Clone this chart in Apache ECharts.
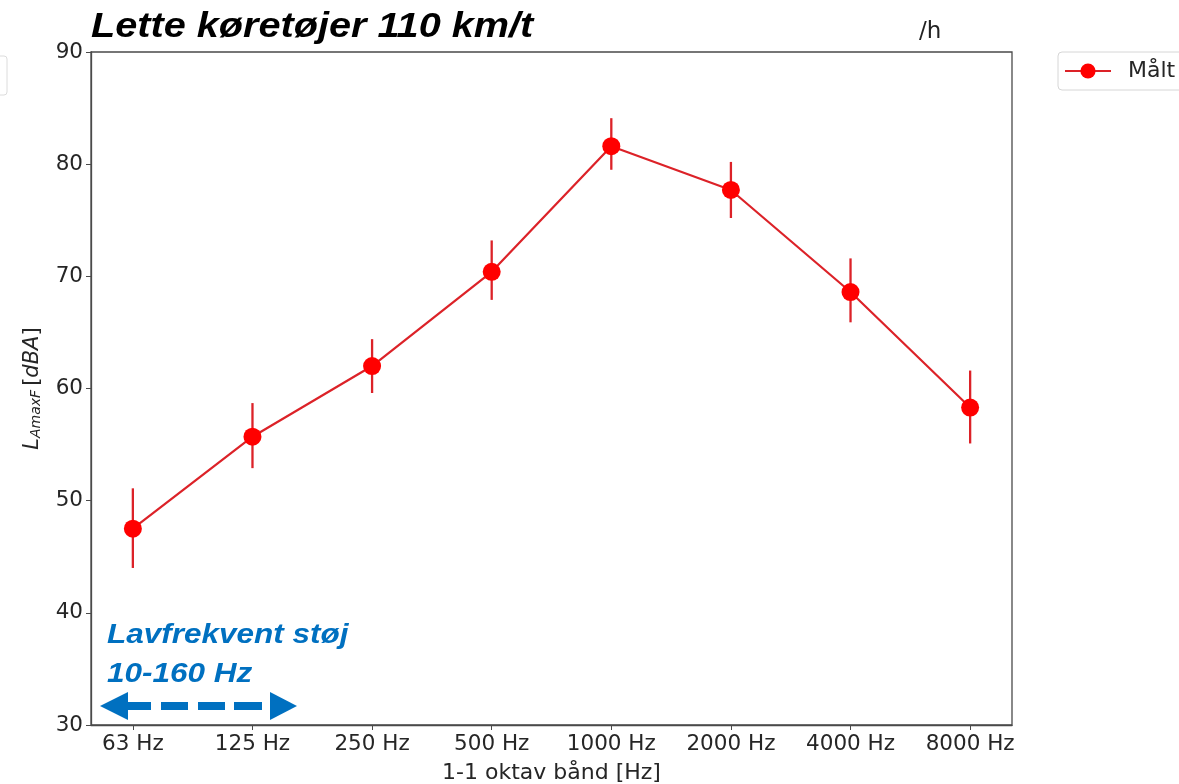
<!DOCTYPE html>
<html>
<head>
<meta charset="utf-8">
<script src="https://cdn.jsdelivr.net/npm/echarts@6/dist/echarts.min.js"></script>
<style>html,body{margin:0;padding:0;background:#fff}#c{width:1179px;height:784px}</style>
</head>
<body>
<div id="c"></div>
<script>
const categories = ['63 Hz','125 Hz','250 Hz','500 Hz','1000 Hz','2000 Hz','4000 Hz','8000 Hz'];
const measured = [47.5, 55.7, 62.0, 70.4, 81.6, 77.7, 68.6, 58.3];
const errLow   = [44.0, 52.9, 59.6, 67.9, 79.5, 75.2, 65.9, 55.1];
const errHigh  = [51.1, 58.7, 64.4, 73.2, 84.1, 80.2, 71.6, 61.6];
const yTicks = [30, 40, 50, 60, 70, 80, 90];

const idx = categories.map((_, i) => i);
const lineData = measured.map((v, i) => [i, v]);
const errData = idx.map(i => [i, errLow[i], errHigh[i]]);

const chart = echarts.init(document.getElementById('c'), null, {renderer: 'canvas'});
const tickFont = {fontFamily: 'DejaVu Sans', fontSize: 21.5, color: '#262626'};
const axisCol = '#4a4a4a';
const redLine = '#dc2228';
const blue = '#0070c0';
const boldItalic = (size, fill) => ({fontFamily: 'Liberation Sans', fontWeight: 'bold', fontStyle: 'italic', fontSize: size, fill: fill, verticalAlign: 'middle', align: 'left'});

chart.setOption({
  animation: false,
  backgroundColor: '#fff',
  grid: {left: 91, right: 167, top: 52, bottom: 59, outerBoundsMode: 'none', containLabel: false,
         show: true, borderColor: axisCol, borderWidth: 1.3, backgroundColor: 'transparent'},
  legend: {
    data: ['Målt'], left: 1058, top: 52, orient: 'vertical',
    itemWidth: 46, itemHeight: 19, itemGap: 8,
    padding: [8, 10, 8, 6], borderColor: '#d6d6d6', borderWidth: 1, borderRadius: 4,
    textStyle: {fontFamily: 'DejaVu Sans', fontSize: 22, color: '#262626', padding: [0, 0, 0, 12]}
  },
  xAxis: {
    type: 'value', min: -0.35, max: 7.35,
    name: '1-1 oktav bånd [Hz]', nameLocation: 'middle', nameGap: 37,
    nameTextStyle: {fontFamily: 'DejaVu Sans', fontSize: 22, color: '#262626'},
    axisLine: {show: true, onZero: false, lineStyle: {color: axisCol, width: 1.3}},
    axisTick: {show: true, length: 5, customValues: idx, lineStyle: {color: axisCol}},
    axisLabel: Object.assign({customValues: idx, margin: 8, formatter: v => categories[Math.round(v)] || ''}, tickFont),
    splitLine: {show: false}
  },
  yAxis: {
    type: 'value', min: 30, max: 90, interval: 10,
    name: '{L|L}{s|AmaxF}{n|[}{i|dBA}{n|]}', nameLocation: 'middle', nameGap: 48, nameRotate: 90,
    nameTextStyle: {
      rich: {
        L: {fontFamily: 'DejaVu Sans', fontStyle: 'italic', fontSize: 21, color: '#262626', verticalAlign: 'bottom', lineHeight: 26},
        s: {fontFamily: 'DejaVu Sans', fontStyle: 'italic', fontSize: 14, color: '#262626', verticalAlign: 'bottom', lineHeight: 20, padding: [0, 4, 0, 0]},
        n: {fontFamily: 'DejaVu Sans', fontSize: 21, color: '#262626', verticalAlign: 'bottom', lineHeight: 26},
        i: {fontFamily: 'DejaVu Sans', fontStyle: 'italic', fontSize: 21, color: '#262626', verticalAlign: 'bottom', lineHeight: 26}
      }
    },
    axisLine: {show: true, onZero: false, lineStyle: {color: axisCol, width: 1.3}},
    axisTick: {show: true, length: 5, lineStyle: {color: axisCol}},
    axisLabel: Object.assign({margin: 8, formatter: v => yTicks.includes(v) ? String(v) : ''}, tickFont),
    splitLine: {show: false}
  },
  series: [
    {
      type: 'custom', name: 'err', silent: true, z: 2,
      data: errData,
      encode: {x: 0, y: [1, 2]},
      renderItem: function (params, api) {
        const lo = api.coord([api.value(0), api.value(1)]);
        const hi = api.coord([api.value(0), api.value(2)]);
        return {type: 'line', shape: {x1: lo[0], y1: lo[1], x2: hi[0], y2: hi[1]},
          style: {stroke: redLine, lineWidth: 2.3}};
      }
    },
    {
      type: 'line', name: 'Målt', data: lineData, z: 3,
      symbol: 'circle', symbolSize: 18,
      lineStyle: {color: redLine, width: 2.2},
      itemStyle: {color: '#ff0000'}
    }
  ],
  graphic: [
    {type: 'text', x: 91, y: 27, scaleX: 1.133, z: 10, style: Object.assign({text: 'Lette køretøjer 110 km/t'}, boldItalic(35, '#000'))},
    {type: 'text', left: 919, top: 21, style: {text: '/h', fontFamily: 'DejaVu Sans', fontSize: 23, fill: '#222'}},
    {type: 'rect', shape: {x: -10, y: 56, width: 17, height: 39, r: 3}, style: {fill: 'none', stroke: '#dcdcdc', lineWidth: 1}},
    {type: 'text', x: 107, y: 635.5, scaleX: 1.125, style: Object.assign({text: 'Lavfrekvent støj'}, boldItalic(28, blue))},
    {type: 'text', x: 107, y: 674.5, scaleX: 1.125, style: Object.assign({text: '10-160 Hz'}, boldItalic(28, blue))},
    {type: 'polygon', shape: {points: [[100, 706], [128, 692], [128, 720]]}, style: {fill: blue}},
    {type: 'polygon', shape: {points: [[297, 706], [270, 692], [270, 720]]}, style: {fill: blue}},
    {type: 'rect', shape: {x: 127, y: 702, width: 24, height: 8}, style: {fill: blue}},
    {type: 'rect', shape: {x: 161, y: 702, width: 27, height: 8}, style: {fill: blue}},
    {type: 'rect', shape: {x: 198, y: 702, width: 27, height: 8}, style: {fill: blue}},
    {type: 'rect', shape: {x: 234, y: 702, width: 28, height: 8}, style: {fill: blue}}
  ]
});
</script>
</body>
</html>
